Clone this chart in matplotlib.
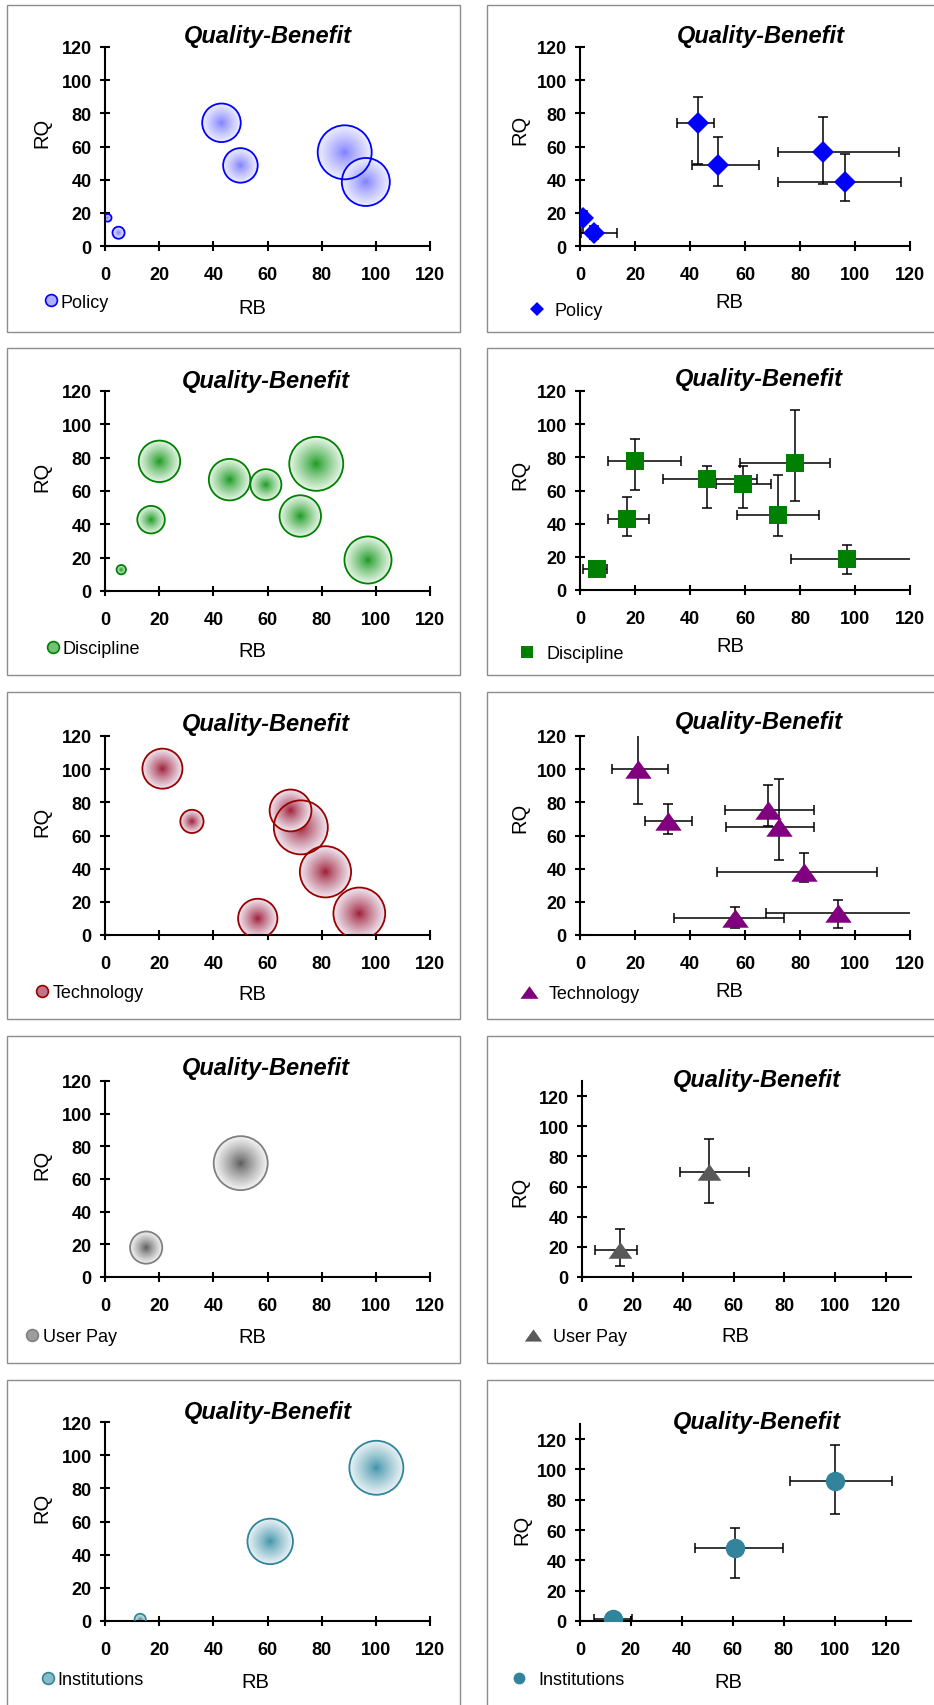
import numpy as np
import matplotlib
matplotlib.use("Agg")
import matplotlib.pyplot as plt
from matplotlib.colors import to_rgb
from matplotlib.lines import Line2D
from matplotlib.patches import Rectangle

plt.rcParams['font.family'] = ['Liberation Sans', 'DejaVu Sans']

# ---- data: RB (x), RQ (y), bubble size, error ranges ----
policy_rb = [1, 5, 43, 50, 88.5, 96.3]
policy_rq = [17, 8, 74.3, 48.6, 56.5, 38.6]
policy_size = [2, 5, 51, 41, 100, 79]
policy_rb_lo = [1, 0.5, 35.2, 40.6, 72.1, 72.1]
policy_rb_hi = [1, 13.3, 48.6, 65.2, 116, 116.6]
policy_rq_lo = [8, 4, 49.2, 36.2, 37.6, 27.1]
policy_rq_hi = [21, 12, 89.8, 65.7, 77.8, 55.7]

discipline_rb = [6, 17, 20.1, 46, 59.4, 72.1, 78, 97.1]
discipline_rq = [12.8, 42.8, 77.8, 66.8, 63.8, 45, 76.3, 18.6]
discipline_size = [3, 26, 59, 59, 33, 59, 100, 76]
discipline_rb_lo = [1, 10.3, 10.3, 30.3, 49.5, 57.2, 58, 76.6]
discipline_rb_hi = [9.7, 25.2, 36.7, 64.5, 69.3, 87, 90.9, 125]
discipline_rq_lo = [12.8, 32.3, 60.5, 49.2, 49.2, 32.3, 53.9, 9.5]
discipline_rq_hi = [12.8, 55.9, 91.2, 74.6, 75, 69.4, 108.3, 27.2]

technology_rb = [21.2, 32.1, 68.5, 72.3, 81.4, 56.4, 93.9]
technology_rq = [100.3, 68.5, 75.1, 64.9, 38.1, 10, 13]
technology_size = [55, 18.5, 60, 100, 90, 53, 92]
technology_rb_lo = [11.5, 23.6, 52.7, 53.1, 49.7, 34.3, 67.5]
technology_rb_hi = [32.1, 40.6, 85.2, 85.2, 108.1, 74.3, 125]
technology_rq_lo = [78.7, 60.9, 65.6, 45.4, 31.7, 4, 4]
technology_rq_hi = [120.4, 78.7, 90.2, 94.2, 49.4, 17.1, 21.2]

userpay_rb = [15.2, 50.1]
userpay_rq = [18, 69.7]
userpay_size = [35.5, 100]
userpay_rb_lo = [5, 38.6]
userpay_rb_hi = [21.8, 65.9]
userpay_rq_lo = [7.2, 49.4]
userpay_rq_hi = [31.8, 91.7]

institutions_rb = [13, 61, 100.2]
institutions_rq = [1, 48, 92.4]
institutions_size = [4.3, 71, 100]
institutions_rb_lo = [5.5, 45.3, 82.4]
institutions_rb_hi = [20.5, 79.6, 122.6]
institutions_rq_lo = [1, 28.1, 70.3]
institutions_rq_hi = [1, 61.5, 116.1]

names = ['Policy', 'Discipline', 'Technology', 'User Pay', 'Institutions']
series = [
    (policy_rb, policy_rq, policy_size, policy_rb_lo, policy_rb_hi, policy_rq_lo, policy_rq_hi),
    (discipline_rb, discipline_rq, discipline_size, discipline_rb_lo, discipline_rb_hi,
     discipline_rq_lo, discipline_rq_hi),
    (technology_rb, technology_rq, technology_size, technology_rb_lo, technology_rb_hi,
     technology_rq_lo, technology_rq_hi),
    (userpay_rb, userpay_rq, userpay_size, userpay_rb_lo, userpay_rb_hi, userpay_rq_lo, userpay_rq_hi),
    (institutions_rb, institutions_rq, institutions_size, institutions_rb_lo, institutions_rb_hi,
     institutions_rq_lo, institutions_rq_hi),
]

# ---- styles ----
bubble_center = ['#7C7CFF', '#13961A', '#9C1531', '#555555', '#3A8FA6']
bubble_edge = ['#EEEEFF', '#E6F6E6', '#EFE6F0', '#F4F4F4', '#E8F2F5']
bubble_line = ['#0000FF', '#008000', '#990000', '#808080', '#31849B']
mark_color = ['#0000FF', '#008000', '#800080', '#595959', '#31849B']
tri = [(-1, -0.7), (1, -0.7), (0, 0.7)]
mark_shape = ['D', 's', tri, tri, 'o']
mark_size = [11, 13.5, 19, 17, 14]
leg_size = [7, 8, 13, 12.5, 8.5]

W, H = 934, 1706
fig = plt.figure(figsize=(W / 100, H / 100), dpi=100)

row_top = [6, 349, 693, 1037, 1381]
panel_h = 327
left_box = [(105, 430, 48, 247), (105, 430, 392, 592), (105, 430, 737, 936),
            (105, 430, 1082, 1278), (105, 430, 1423, 1622)]
right_box = [(580, 910, 48, 247), (580, 910, 392, 591), (580, 910, 737, 936),
             (582, 911, 1082, 1278), (580, 911, 1425, 1622)]
right_lim = [120, 120, 120, 130, 130]

# text positions in pixels: title, RQ, RB, legend marker x, legend text x, legend y
left_txt = [((268, 37), (42, 133), (252, 308), 51, 60, 303),
            ((266, 382), (42, 477), (252, 652), 53, 62, 650),
            ((266, 725), (42, 822), (252, 995), 42, 53, 994),
            ((266, 1069), (42, 1165), (252, 1338), 32, 43, 1338),
            ((268, 1412), (42, 1508), (255, 1683), 48, 57, 1681)]
right_txt = [((761, 36), (520, 130), (729, 303), 537, 555, 312),
             ((759, 380), (520, 475), (730, 647), 527, 547, 655),
             ((759, 723), (520, 818), (729, 992), 529, 549, 995),
             ((757, 1081), (520, 1192), (735, 1337), 533, 553, 1338),
             ((757, 1423), (522, 1530), (728, 1683), 519, 538, 1681)]

R_MAX = 27 * 0.72  # radius of the largest bubble, points
LEG_FS = 13


def make_axes(box):
    x0, x1, yt, yb = box
    return fig.add_axes([x0 / W, 1 - yb / H, (x1 - x0) / W, (yb - yt) / H])


def to_axes(box, p):
    x0, x1, yt, yb = box
    return (p[0] - x0) / (x1 - x0), (yb - p[1]) / (yb - yt)


def style(ax, box, lim, txt):
    ax.set_xlim(0, lim)
    ax.set_ylim(0, lim)
    ticks = list(range(0, 121, 20))
    ax.set_xticks(ticks, [str(t) for t in ticks], fontweight='bold')
    ax.set_yticks(ticks, [str(t) for t in ticks], fontweight='bold')
    for s in ['top', 'right']:
        ax.spines[s].set_visible(False)
    for s in ['left', 'bottom']:
        ax.spines[s].set_linewidth(1.5)
    ax.tick_params(direction='inout', length=7, width=1.5, labelsize=13)
    ax.tick_params(axis='x', pad=11)
    ax.tick_params(axis='y', pad=6)
    ax.patch.set_visible(False)
    tx, ty = to_axes(box, txt[0])
    ax.set_title('Quality-Benefit', fontsize=17, fontweight='bold', fontstyle='italic',
                 x=tx, y=ty, va='center', pad=0)
    ax.set_ylabel('RQ', fontsize=14.5, va='center')
    ax.yaxis.set_label_coords(*to_axes(box, txt[1]))
    ax.set_xlabel('RB', fontsize=14.5, va='center')
    ax.xaxis.set_label_coords(*to_axes(box, txt[2]))


def add_legend(ax, handle, label, txt):
    hl = 0.8
    box_px = hl * LEG_FS * 100 / 72
    mx, tx, ly = txt[3], txt[4], txt[5]
    pad = (tx - mx - box_px / 2) / (LEG_FS * 100 / 72)
    ax.legend([handle], [label], loc='center left',
              bbox_to_anchor=((mx - box_px / 2) / W, 1 - ly / H),
              bbox_transform=fig.transFigure, frameon=False, borderpad=0,
              borderaxespad=0, handlelength=hl, handletextpad=pad, fontsize=LEG_FS)


def draw_bubbles(ax, xs, ys, sizes, c_in, c_out, c_line):
    sizes = np.asarray(sizes, dtype=float)
    n = 40
    frac = np.linspace(1, 0.02, n)
    a = np.array(to_rgb(c_in))
    b = np.array(to_rgb(c_out))
    cols = a[None, :] + (b - a)[None, :] * frac[:, None] ** 0.8
    diam = 2 * R_MAX * np.sqrt(sizes / sizes.max())
    for i in np.argsort(sizes)[::-1]:
        ax.scatter(np.full(n, xs[i]), np.full(n, ys[i]), s=(diam[i] * frac) ** 2,
                   c=cols, linewidths=0, zorder=2)
    ax.scatter(xs, ys, s=diam ** 2, facecolors='none', edgecolors=c_line,
               linewidths=1.3, zorder=3)


for i, name in enumerate(names):
    rb, rq, size, rb_lo, rb_hi, rq_lo, rq_hi = [np.asarray(v, dtype=float) for v in series[i]]

    # panel frames
    for px0, px1 in [(7, 460), (487, 944)]:
        fig.patches.append(Rectangle((px0 / W, 1 - (row_top[i] + panel_h) / H),
                                     (px1 - px0) / W, panel_h / H, transform=fig.transFigure,
                                     fill=False, edgecolor='#8C8C8C', linewidth=1))

    # bubble chart
    ax = make_axes(left_box[i])
    draw_bubbles(ax, rb, rq, size, bubble_center[i], bubble_edge[i], bubble_line[i])
    style(ax, left_box[i], 120, left_txt[i])
    pale = 0.55 * np.array(to_rgb(bubble_center[i])) + 0.45 * np.array(to_rgb(bubble_edge[i]))
    h = Line2D([], [], linestyle='none', marker='o', markersize=8.5,
               markerfacecolor=pale, markeredgecolor=bubble_line[i], markeredgewidth=1.2)
    add_legend(ax, h, name, left_txt[i])

    # marker chart with error ranges
    ax = make_axes(right_box[i])
    ax.errorbar(rb, rq, xerr=[rb - rb_lo, rb_hi - rb], yerr=[rq - rq_lo, rq_hi - rq],
                fmt='none', ecolor='black', elinewidth=1.1, capsize=3.5, capthick=1.1, zorder=2)
    ax.plot(rb, rq, linestyle='none', marker=mark_shape[i], markersize=mark_size[i],
            color=mark_color[i], markeredgewidth=0, zorder=3)
    style(ax, right_box[i], right_lim[i], right_txt[i])
    h = Line2D([], [], linestyle='none', marker=mark_shape[i], markersize=leg_size[i],
               color=mark_color[i], markeredgewidth=0)
    add_legend(ax, h, name, right_txt[i])

fig.savefig('out.png', dpi=100, facecolor='white')
